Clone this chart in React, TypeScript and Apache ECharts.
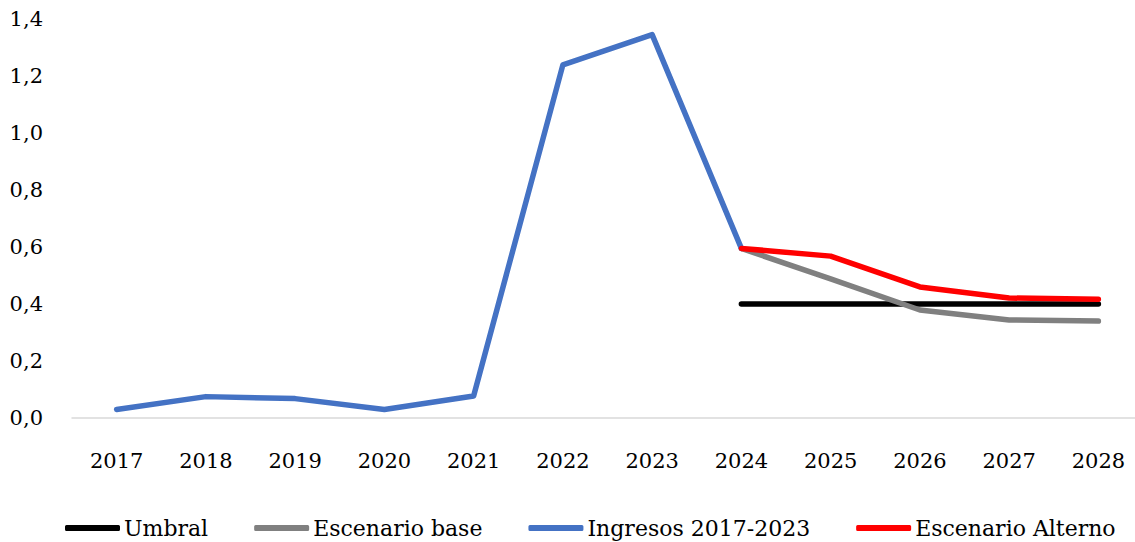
import React, { useEffect, useRef } from "react";
import * as echarts from "echarts";

const years = ["2017", "2018", "2019", "2020", "2021", "2022", "2023", "2024", "2025", "2026", "2027", "2028"];
const umbral = [null, null, null, null, null, null, null, 0.4, 0.4, 0.4, 0.4, 0.4];
const escenarioBase = [null, null, null, null, null, null, null, 0.595, 0.488, 0.379, 0.344, 0.34];
const ingresos = [0.03, 0.075, 0.068, 0.03, 0.077, 1.239, 1.345, 0.595, null, null, null, null];
const escenarioAlterno = [null, null, null, null, null, null, null, 0.595, 0.568, 0.46, 0.421, 0.417];

const FONT = "DejaVu Serif";

export default function App() {
  const ref = useRef<HTMLDivElement>(null);
  useEffect(() => {
    const chart = echarts.init(ref.current!, null, { renderer: "svg" });
    const mk = (name: string, data: (number | null)[], color: string) => ({
      name,
      type: "line",
      data,
      symbol: "none",
      lineStyle: { color, width: 5.5, cap: "round", join: "round" },
      itemStyle: { color },
      connectNulls: false,
    });
    chart.setOption({
      animation: false,
      textStyle: { fontFamily: FONT },
      grid: { left: 72, right: 0, top: 19, bottom: 124, containLabel: false },
      legend: {
        top: 512,
        left: 60,
        right: 0,
        icon: "roundRect",
        itemWidth: 55,
        itemHeight: 6,
        itemGap: 46,
        textStyle: { fontFamily: FONT, fontSize: 22, color: "#000", padding: [0, 0, 0, -1] },
        data: ["Umbral", "Escenario base", "Ingresos 2017-2023", "Escenario Alterno"],
      },
      xAxis: {
        type: "category",
        data: years,
        boundaryGap: true,
        axisLine: { lineStyle: { color: "#d9d9d9", width: 1.5 } },
        axisTick: { show: false },
        axisLabel: { color: "#000", fontSize: 21, fontFamily: FONT, margin: 32 },
      },
      yAxis: {
        type: "value",
        min: 0,
        max: 1.4,
        interval: 0.2,
        splitLine: { show: false },
        axisLine: { show: false },
        axisTick: { show: false },
        axisLabel: {
          color: "#000",
          fontSize: 21,
          fontFamily: FONT,
          margin: 29,
          formatter: (v: number) => v.toFixed(1).replace(".", ","),
        },
      },
      series: [
        mk("Umbral", umbral, "#000000"),
        mk("Escenario base", escenarioBase, "#808080"),
        mk("Ingresos 2017-2023", ingresos, "#4472c4"),
        mk("Escenario Alterno", escenarioAlterno, "#ff0000"),
      ],
    });
    return () => chart.dispose();
  }, []);
  return (
    <div style={{ width: 1135, height: 542, position: "absolute", left: 0, top: 0, overflow: "hidden" }}>
      <div ref={ref} style={{ width: 1143, height: 542 }} />
    </div>
  );
}
